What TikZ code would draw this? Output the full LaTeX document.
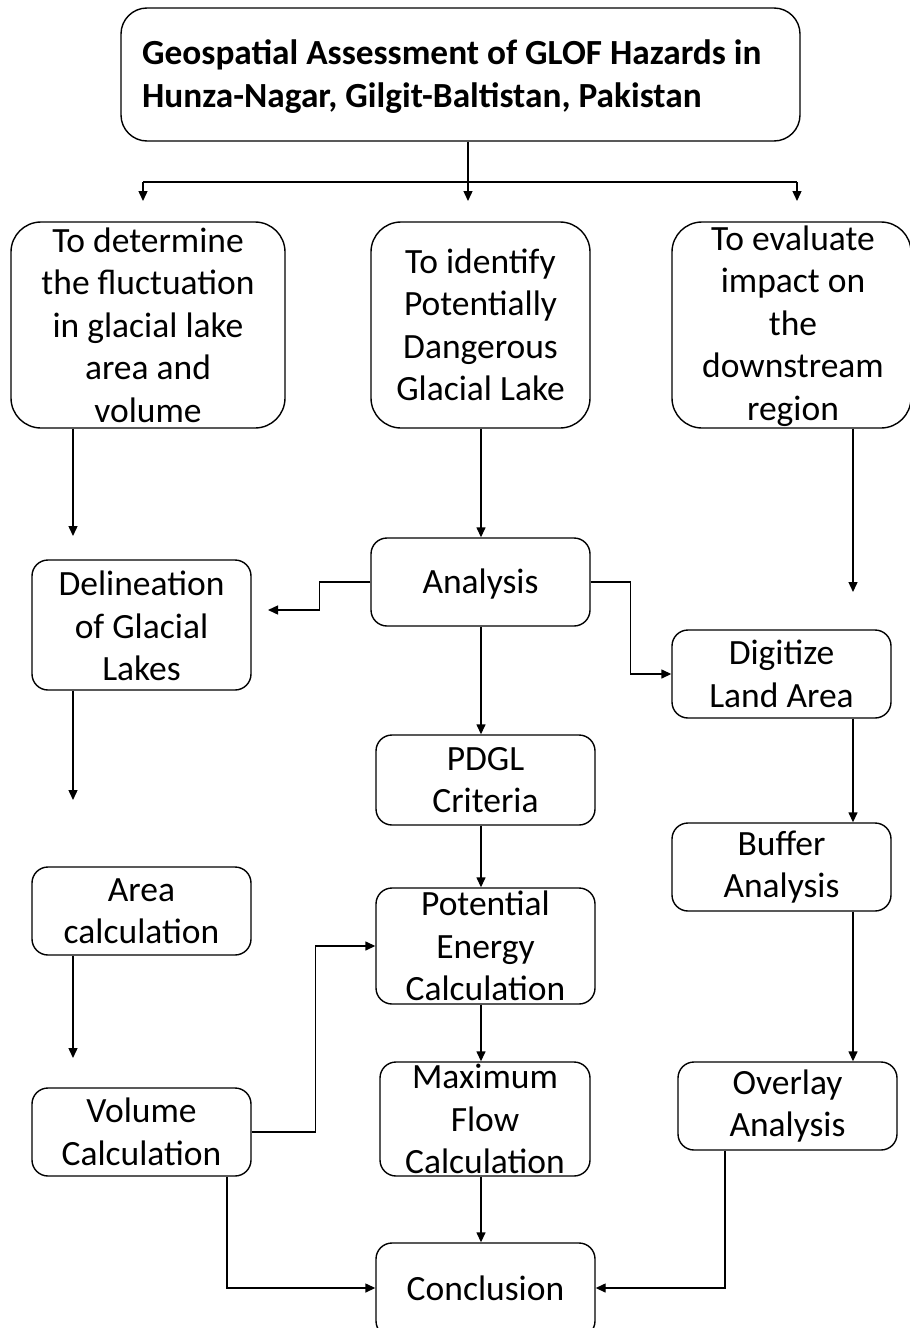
\documentclass[tikz,border=0pt]{standalone}
\usepackage{fontspec}
\setmainfont{Carlito}
\usetikzlibrary{arrows.meta,calc}
\begin{document}
\begin{tikzpicture}[x=1pt,y=-1pt,
  box/.style={draw=black,line width=1.4pt,rounded corners=16pt,inner sep=0pt},
  txt/.style={align=center,inner sep=0pt,font=\fontsize{35.5}{42.5}\selectfont},
  conn/.style={draw=black,line width=1.4pt},
  arr/.style={conn,-{Triangle[length=10pt,width=9pt]}}]
\useasboundingbox (0,0) rectangle (910,1328);
\fill[white] (0,0) rectangle (910,1328);
% boxes
\node[box,rounded corners=26pt,minimum width=679pt,minimum height=133pt] (title) at (460.5,74.5) {};
\node[anchor=west,align=left,inner sep=0pt,font=\fontsize{35.3}{43}\selectfont\bfseries] (titlet) at (142,77) {Geospatial Assessment of GLOF Hazards in\\Hunza-Nagar, Gilgit-Baltistan, Pakistan};
\node[box,rounded corners=30pt,minimum width=274pt,minimum height=206pt] (b1) at (148,325) {};
\node[txt] (b1t) at (b1) {To determine\\the fluctuation\\in glacial lake\\area and\\volume};
\node[box,rounded corners=30pt,minimum width=219pt,minimum height=206pt] (b2) at (480.5,325) {};
\node[txt] (b2t) at (b2) {To identify\\Potentially\\Dangerous\\Glacial Lake};
\node[box,rounded corners=30pt,minimum width=239pt,minimum height=206pt] (b3) at (791.5,325) {};
\node[txt] (b3t) at (793,326) {To evaluate\\impact on\\the\\downstream\\region};
\node[box,minimum width=219pt,minimum height=88pt] (ana) at (480.5,582) {};
\node[txt] (anat) at (480.5,584) {Analysis};
\node[box,minimum width=219pt,minimum height=130pt] (del) at (141.5,625) {};
\node[txt] (delt) at (141.5,626) {Delineation\\of Glacial\\Lakes};
\node[box,minimum width=219pt,minimum height=88pt] (dig) at (781.5,674) {};
\node[txt] (digt) at (dig) {Digitize\\Land Area};
\node[box,minimum width=219pt,minimum height=90pt] (pdgl) at (485.5,780) {};
\node[txt] (pdglt) at (pdgl) {PDGL\\Criteria};
\node[box,minimum width=219pt,minimum height=116pt] (pot) at (485.5,946) {};
\node[txt] (pott) at (pot) {Potential\\Energy\\Calculation};
\node[box,minimum width=219pt,minimum height=88pt] (area) at (141.5,911) {};
\node[txt] (areat) at (area) {Area\\calculation};
\node[box,minimum width=219pt,minimum height=88pt] (vol) at (141.5,1132) {};
\node[txt] (volt) at (vol) {Volume\\Calculation};
\node[box,minimum width=210pt,minimum height=114pt] (max) at (485,1119) {};
\node[txt] (maxt) at (max) {Maximum\\Flow\\Calculation};
\node[box,minimum width=219pt,minimum height=88pt] (buf) at (781.5,867) {};
\node[txt] (buft) at (buf) {Buffer\\Analysis};
\node[box,minimum width=219pt,minimum height=88pt] (ovl) at (787.5,1106) {};
\node[txt] (ovlt) at (ovl) {Overlay\\Analysis};
\node[box,minimum width=219pt,minimum height=94pt] (conc) at (485.5,1290) {};
\node[txt] (conct) at (485.5,1288) {Conclusion};
% coordinates
\coordinate (hl) at (143,182);
\coordinate (hm) at (468,182);
\coordinate (hr) at (797,182);
\coordinate (e1) at (143,201);
\coordinate (e2) at (468,201);
\coordinate (e3) at (797,201);
\coordinate (f1) at (73,536);
\coordinate (f3) at (853,592);
\coordinate (f4) at (268,610);
\coordinate (f5) at (73,800);
\coordinate (f6) at (73,1058);
\coordinate (c) at (481,0);
% connectors
\draw[conn] (hl) -- (hr);
\draw[arr] (hm |- title.south) -- (e2);
\draw[arr] (hl) -- (e1);
\draw[arr] (hr) -- (e3);
\draw[arr] (f1 |- b1.south) -- (f1);
\draw[arr] (c |- b2.south) -- (c |- ana.north);
\draw[arr] (f3 |- b3.south) -- (f3);
\draw[arr] (ana.west) -- ++(-51,0) |- (f4);
\draw[arr] (ana.east) -- ++(40,0) |- (dig.west);
\draw[arr] (f5 |- del.south) -- (f5);
\draw[arr] (c |- ana.south) -- (c |- pdgl.north);
\draw[arr] (c |- pdgl.south) -- (c |- pot.north);
\draw[arr] (f6 |- area.south) -- (f6);
\draw[arr] (vol.east) -- ++(64,0) |- (pot.west);
\draw[arr] (c |- pot.south) -- (c |- max.north);
\draw[arr] (c |- max.south) -- (c |- conc.north);
\draw[arr] (f3 |- dig.south) -- (f3 |- buf.north);
\draw[arr] (f3 |- buf.south) -- (f3 |- ovl.north);
\draw[arr] ([xshift=85.5pt]vol.south) |- (conct.west -| conc.west);
\draw[arr] ([xshift=-62.5pt]ovl.south) |- (conct.east -| conc.east);
\end{tikzpicture}
\end{document}
